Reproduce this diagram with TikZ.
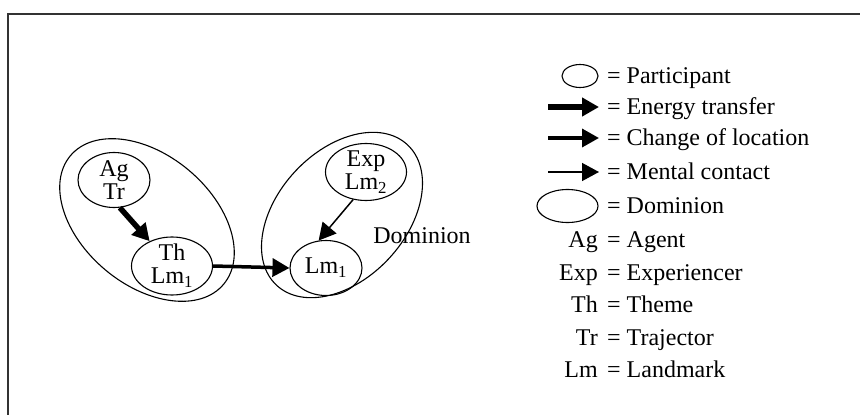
\documentclass[tikz,border=0pt]{standalone}
\usepackage{fontspec}
\setmainfont{Liberation Serif}
\usetikzlibrary{arrows.meta,shapes.geometric}
\tikzset{
  part/.style   = {ellipse, draw, line width=1.1pt, inner sep=0pt,
                   minimum width=72pt, minimum height=55pt},
  dom/.style    = {ellipse, draw, line width=1.1pt, inner sep=0pt},
  energy/.style = {-{Triangle[length=17pt,width=18pt]}, line width=5.5pt},
  changeloc/.style = {-{Triangle[length=17pt,width=18pt]}, line width=3.5pt},
  mental/.style = {-{Triangle[length=17pt,width=18pt]}, line width=1.5pt},
  txt/.style    = {inner sep=0pt, align=center},
}

\begin{document}
\begin{tikzpicture}[x=1pt, y=-1pt, font=\fontsize{24pt}{23pt}\selectfont]
      \useasboundingbox (0,0) rectangle (860,415);
      % frame, cut at right and bottom
      \draw[line width=1.5pt, black!80] (8,415) -- (8,14) -- (860,14);

      % dominions
      \node[dom, minimum width=200pt, minimum height=130pt, rotate=-40] (domleft)  at (147,220) {};
      \node[dom, minimum width=192pt, minimum height=128pt, rotate=47]  (domright) at (342,215) {};

      % participants
      \node[part] (agtr) at (114,180) {};
      \node[part, minimum width=81pt, minimum height=58pt] (thlm) at (172,266) {};
      \node[part] (lmone) at (326,268) {};
      \node[part, minimum width=81pt, minimum height=57pt] (explm) at (366,172) {};
      \node[txt] (agtrtxt) at (agtr)  {Ag\\Tr};
      \node[txt] (thlmtxt) at (thlm)  {Th\\Lm\textsubscript{1}};
      \node[txt] (lmonetxt) at (lmone) {Lm\textsubscript{1}};
      \node[txt] (explmtxt) at (explm) {Exp\\Lm\textsubscript{2}};
      \node[txt] (domlabel) at (422,236) {Dominion};

      \draw[energy]    (agtr.-78)  -- (thlm.132);
      \draw[changeloc] (thlm.east) -- (lmone.west);
      \draw[mental]    (explm.-115) -- (lmone.105);

      % legend
      \node[part, minimum width=36pt, minimum height=23pt] (legpart) at (580,76) {};
      \coordinate (legena) at (548,107); \coordinate (legenb) at (599,107);
      \coordinate (legcha) at (548,138); \coordinate (legchb) at (599,138);
      \coordinate (legmea) at (548,172); \coordinate (legmeb) at (599,172);
      \node[part, minimum width=61pt, minimum height=33pt] (legdom) at (567.5,206) {};
      \draw[energy]    (legena) -- (legenb);
      \draw[changeloc] (legcha) -- (legchb);
      \draw[mental]    (legmea) -- (legmeb);

      \node[txt, anchor=base west] (tpart)  at (607,83)  {= Participant};
      \node[txt, anchor=base west] (tenerg) at (607,114) {= Energy transfer};
      \node[txt, anchor=base west] (tchang) at (607,145) {= Change of location};
      \node[txt, anchor=base west] (tment)  at (607,179) {= Mental contact};
      \node[txt, anchor=base west] (tdom)   at (607,213) {= Dominion};

      \node[txt, anchor=base east] (abag)  at (598,247) {Ag};
      \node[txt, anchor=base east] (abexp) at (598,280) {Exp};
      \node[txt, anchor=base east] (abth)  at (598,312) {Th};
      \node[txt, anchor=base east] (abtr)  at (598,345) {Tr};
      \node[txt, anchor=base east] (ablm)  at (598,377) {Lm};
      \node[txt, anchor=base west] (tag)   at (607,247) {= Agent};
      \node[txt, anchor=base west] (texp)  at (607,280) {= Experiencer};
      \node[txt, anchor=base west] (tth)   at (607,312) {= Theme};
      \node[txt, anchor=base west] (ttr)   at (607,345) {= Trajector};
      \node[txt, anchor=base west] (tlm)   at (607,377) {= Landmark};
    \end{tikzpicture}
\end{document}
